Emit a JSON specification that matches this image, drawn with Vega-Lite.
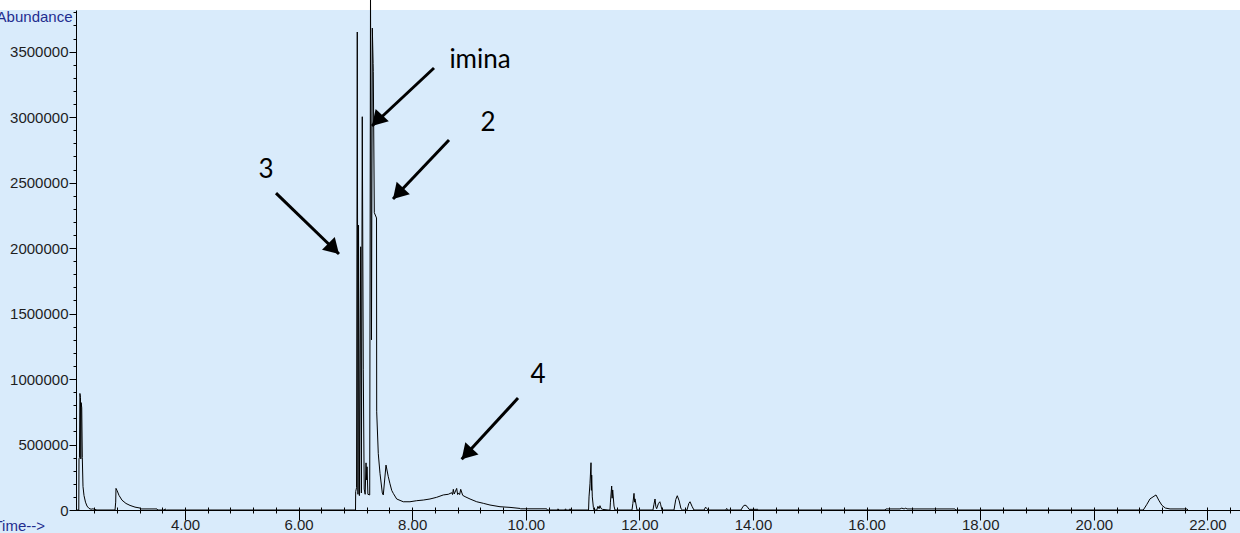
{
  "$schema": "https://vega.github.io/schema/vega-lite/v6.json",
  "width": 1164,
  "height": 500,
  "autosize": {"type": "none"},
  "padding": {"left": 76, "top": 10, "right": 0, "bottom": 23},
  "background": "#d9ebfb",
  "config": {
    "view": {"stroke": null},
    "axis": {
      "grid": false,
      "labelFont": "Liberation Sans",
      "labelFontSize": 15,
      "labelColor": "#1e1e1e",
      "domainColor": "#000000",
      "tickColor": "#000000",
      "titleFont": "Liberation Sans",
      "titleFontSize": 15,
      "titleFontWeight": "normal",
      "titleColor": "#1f2d8f"
    }
  },
  "datasets": {
    "signal": [
      {"time": 2.081, "abundance": 0},
      {"time": 2.13, "abundance": 0},
      {"time": 2.134, "abundance": 390000},
      {"time": 2.142, "abundance": 400000},
      {"time": 2.15, "abundance": 890000},
      {"time": 2.16, "abundance": 860000},
      {"time": 2.166, "abundance": 390000},
      {"time": 2.172, "abundance": 820000},
      {"time": 2.182, "abundance": 780000},
      {"time": 2.192, "abundance": 400000},
      {"time": 2.204, "abundance": 180000},
      {"time": 2.222, "abundance": 110000},
      {"time": 2.248, "abundance": 60000},
      {"time": 2.275, "abundance": 30000},
      {"time": 2.31, "abundance": 12000},
      {"time": 2.346, "abundance": 6000},
      {"time": 2.38, "abundance": 9000},
      {"time": 2.415, "abundance": 4000},
      {"time": 2.45, "abundance": 0},
      {"time": 2.768, "abundance": 0},
      {"time": 2.78, "abundance": 60000},
      {"time": 2.785, "abundance": 165000},
      {"time": 2.803, "abundance": 150000},
      {"time": 2.838, "abundance": 112000},
      {"time": 2.891, "abundance": 75000},
      {"time": 2.961, "abundance": 50000},
      {"time": 3.032, "abundance": 35000},
      {"time": 3.12, "abundance": 22000},
      {"time": 3.208, "abundance": 15000},
      {"time": 3.22, "abundance": 8000},
      {"time": 3.507, "abundance": 8000},
      {"time": 3.52, "abundance": 0},
      {"time": 3.63, "abundance": 0},
      {"time": 3.648, "abundance": 9000},
      {"time": 3.67, "abundance": 0},
      {"time": 7.0, "abundance": 0},
      {"time": 7.002, "abundance": 0},
      {"time": 7.005, "abundance": 140000},
      {"time": 7.02, "abundance": 170000},
      {"time": 7.033, "abundance": 3650000},
      {"time": 7.045, "abundance": 120000},
      {"time": 7.055, "abundance": 2175000},
      {"time": 7.07, "abundance": 110000},
      {"time": 7.093, "abundance": 2010000},
      {"time": 7.105, "abundance": 130000},
      {"time": 7.121, "abundance": 3003000},
      {"time": 7.139, "abundance": 1070000},
      {"time": 7.155, "abundance": 160000},
      {"time": 7.172, "abundance": 120000},
      {"time": 7.187, "abundance": 360000},
      {"time": 7.197, "abundance": 230000},
      {"time": 7.205, "abundance": 330000},
      {"time": 7.22, "abundance": 120000},
      {"time": 7.252, "abundance": 115000},
      {"time": 7.266, "abundance": 3950000},
      {"time": 7.283, "abundance": 1300000},
      {"time": 7.298, "abundance": 3680000},
      {"time": 7.312, "abundance": 3410000},
      {"time": 7.315, "abundance": 3350000},
      {"time": 7.333, "abundance": 2270000},
      {"time": 7.372, "abundance": 2230000},
      {"time": 7.375, "abundance": 750000},
      {"time": 7.403, "abundance": 430000},
      {"time": 7.433, "abundance": 280000},
      {"time": 7.474, "abundance": 130000},
      {"time": 7.491, "abundance": 115000},
      {"time": 7.539, "abundance": 343000},
      {"time": 7.579, "abundance": 254000},
      {"time": 7.609, "abundance": 200000},
      {"time": 7.639, "abundance": 150000},
      {"time": 7.667, "abundance": 127000},
      {"time": 7.727, "abundance": 84000},
      {"time": 7.843, "abundance": 63000},
      {"time": 7.961, "abundance": 63000},
      {"time": 8.079, "abundance": 71000},
      {"time": 8.195, "abundance": 76000},
      {"time": 8.313, "abundance": 84000},
      {"time": 8.431, "abundance": 97000},
      {"time": 8.548, "abundance": 115000},
      {"time": 8.636, "abundance": 120000},
      {"time": 8.695, "abundance": 132000},
      {"time": 8.71, "abundance": 118000},
      {"time": 8.724, "abundance": 158000},
      {"time": 8.74, "abundance": 122000},
      {"time": 8.783, "abundance": 165000},
      {"time": 8.8, "abundance": 118000},
      {"time": 8.815, "abundance": 130000},
      {"time": 8.835, "abundance": 118000},
      {"time": 8.854, "abundance": 158000},
      {"time": 8.889, "abundance": 112000},
      {"time": 8.93, "abundance": 102000},
      {"time": 9.018, "abundance": 84000},
      {"time": 9.136, "abundance": 63000},
      {"time": 9.252, "abundance": 51000},
      {"time": 9.37, "abundance": 38000},
      {"time": 9.546, "abundance": 25000},
      {"time": 9.722, "abundance": 20000},
      {"time": 9.898, "abundance": 12000},
      {"time": 9.91, "abundance": 9000},
      {"time": 10.368, "abundance": 9000},
      {"time": 10.38, "abundance": 0},
      {"time": 10.56, "abundance": 0},
      {"time": 10.567, "abundance": 9000},
      {"time": 10.58, "abundance": 0},
      {"time": 10.69, "abundance": 0},
      {"time": 10.7, "abundance": 9000},
      {"time": 10.71, "abundance": 0},
      {"time": 10.77, "abundance": 0},
      {"time": 10.778, "abundance": 9000},
      {"time": 10.79, "abundance": 0},
      {"time": 11.105, "abundance": 0},
      {"time": 11.113, "abundance": 100000},
      {"time": 11.13, "abundance": 200000},
      {"time": 11.148, "abundance": 361000},
      {"time": 11.155, "abundance": 150000},
      {"time": 11.16, "abundance": 267000},
      {"time": 11.171, "abundance": 100000},
      {"time": 11.19, "abundance": 20000},
      {"time": 11.201, "abundance": 0},
      {"time": 11.25, "abundance": 0},
      {"time": 11.27, "abundance": 28000},
      {"time": 11.29, "abundance": 10000},
      {"time": 11.306, "abundance": 33000},
      {"time": 11.324, "abundance": 12000},
      {"time": 11.35, "abundance": 5000},
      {"time": 11.45, "abundance": 0},
      {"time": 11.482, "abundance": 0},
      {"time": 11.49, "abundance": 60000},
      {"time": 11.512, "abundance": 183000},
      {"time": 11.52, "abundance": 90000},
      {"time": 11.53, "abundance": 153000},
      {"time": 11.553, "abundance": 30000},
      {"time": 11.57, "abundance": 0},
      {"time": 11.87, "abundance": 0},
      {"time": 11.885, "abundance": 50000},
      {"time": 11.905, "abundance": 127000},
      {"time": 11.915, "abundance": 60000},
      {"time": 11.923, "abundance": 85000},
      {"time": 11.958, "abundance": 0},
      {"time": 12.239, "abundance": 0},
      {"time": 12.255, "abundance": 40000},
      {"time": 12.275, "abundance": 84000},
      {"time": 12.29, "abundance": 25000},
      {"time": 12.304, "abundance": 10000},
      {"time": 12.336, "abundance": 50000},
      {"time": 12.36, "abundance": 63000},
      {"time": 12.375, "abundance": 40000},
      {"time": 12.398, "abundance": 0},
      {"time": 12.609, "abundance": 0},
      {"time": 12.64, "abundance": 80000},
      {"time": 12.667, "abundance": 109000},
      {"time": 12.7, "abundance": 70000},
      {"time": 12.732, "abundance": 10000},
      {"time": 12.76, "abundance": 0},
      {"time": 12.838, "abundance": 0},
      {"time": 12.87, "abundance": 50000},
      {"time": 12.891, "abundance": 63000},
      {"time": 12.93, "abundance": 25000},
      {"time": 12.961, "abundance": 0},
      {"time": 13.14, "abundance": 0},
      {"time": 13.165, "abundance": 22000},
      {"time": 13.19, "abundance": 10000},
      {"time": 13.208, "abundance": 0},
      {"time": 13.52, "abundance": 0},
      {"time": 13.537, "abundance": 12000},
      {"time": 13.55, "abundance": 0},
      {"time": 13.789, "abundance": 0},
      {"time": 13.825, "abundance": 28000},
      {"time": 13.859, "abundance": 38000},
      {"time": 13.895, "abundance": 28000},
      {"time": 13.93, "abundance": 5000},
      {"time": 14.088, "abundance": 5000},
      {"time": 14.1, "abundance": 0},
      {"time": 16.324, "abundance": 0},
      {"time": 16.34, "abundance": 8000},
      {"time": 16.588, "abundance": 8000},
      {"time": 16.62, "abundance": 14000},
      {"time": 16.66, "abundance": 8000},
      {"time": 16.69, "abundance": 14000},
      {"time": 16.711, "abundance": 8000},
      {"time": 17.556, "abundance": 8000},
      {"time": 17.57, "abundance": 0},
      {"time": 20.871, "abundance": 0},
      {"time": 20.93, "abundance": 40000},
      {"time": 20.99, "abundance": 85000},
      {"time": 21.095, "abundance": 115000},
      {"time": 21.15, "abundance": 70000},
      {"time": 21.201, "abundance": 35000},
      {"time": 21.26, "abundance": 15000},
      {"time": 21.342, "abundance": 8000},
      {"time": 21.641, "abundance": 8000},
      {"time": 21.66, "abundance": 0}
    ],
    "arrows": [
      {"label": "imina", "t0": 8.384, "a0": 3375000, "t1": 7.292, "a1": 2932000},
      {"label": "2", "t0": 8.648, "a0": 2825000, "t1": 7.662, "a1": 2375000},
      {"label": "3", "t0": 5.602, "a0": 2420000, "t1": 6.711, "a1": 1955000},
      {"label": "4", "t0": 9.863, "a0": 855000, "t1": 8.871, "a1": 387000}
    ],
    "notes": [
      {"label": "imina", "t": 9.194, "a": 3436000},
      {"label": "2", "t": 9.335, "a": 2955000},
      {"label": "3", "t": 5.426, "a": 2596000},
      {"label": "4", "t": 10.215, "a": 1031000}
    ]
  },
  "layer": [
    {
      "data": {"values": [{}]},
      "mark": {"type": "rect", "color": "#ffffff", "clip": false},
      "encoding": {
        "x": {"datum": 0.5, "type": "quantitative", "axis": null},
        "x2": {"datum": 23.0},
        "y": {"datum": 3818000, "type": "quantitative", "axis": null},
        "y2": {"datum": 4300000}
      }
    },
    {
      "data": {"name": "signal"},
      "mark": {"type": "line", "color": "#000000", "strokeWidth": 1, "clip": false},
      "encoding": {
        "x": {
          "field": "time",
          "type": "quantitative",
          "scale": {"domain": [2.081, 22.574], "nice": false, "zero": false},
          "axis": {
            "orient": "bottom",
            "values": [4, 6, 8, 10, 12, 14, 16, 18, 20, 22],
            "format": ".2f",
            "tickSize": 10,
            "labelPadding": -3,
            "title": "Time-->",
            "titleAnchor": "start",
            "titleAlign": "left",
            "titleBaseline": "alphabetic",
            "titleX": -83,
            "titleY": 20
          }
        },
        "y": {
          "field": "abundance",
          "type": "quantitative",
          "scale": {"domain": [0, 3818000], "nice": false},
          "axis": {
            "orient": "left",
            "values": [0, 500000, 1000000, 1500000, 2000000, 2500000, 3000000, 3500000],
            "format": "d",
            "tickSize": 7,
            "labelPadding": 1,
            "title": "Abundance",
            "titleAngle": 0,
            "titleAlign": "right",
            "titleBaseline": "alphabetic",
            "titleX": -4,
            "titleY": 11
          }
        },
        "order": {"value": null}
      }
    },
    {
      "data": {"name": "arrows"},
      "mark": {"type": "rule", "color": "#000000", "strokeWidth": 3},
      "encoding": {
        "x": {
          "field": "t0",
          "type": "quantitative",
          "axis": {
            "orient": "bottom",
            "offset": -3,
            "domain": false,
            "labels": false,
            "title": null,
            "tickSize": 6,
            "values": [2.4, 2.8, 3.2, 3.6, 4.0, 4.4, 4.8, 5.2, 5.6, 6.0, 6.4, 6.8, 7.2, 7.6, 8.0, 8.4, 8.8, 9.2, 9.6, 10.0, 10.4, 10.8, 11.2, 11.6, 12.0, 12.4, 12.8, 13.2, 13.6, 14.0, 14.4, 14.8, 15.2, 15.6, 16.0, 16.4, 16.8, 17.2, 17.6, 18.0, 18.4, 18.8, 19.2, 19.6, 20.0, 20.4, 20.8, 21.2, 21.6, 22.0, 22.4]
          }
        },
        "y": {
          "field": "a0",
          "type": "quantitative",
          "axis": {
            "orient": "left",
            "domain": false,
            "labels": false,
            "title": null,
            "tickSize": 3,
            "values": [0, 100000, 200000, 300000, 400000, 500000, 600000, 700000, 800000, 900000, 1000000, 1100000, 1200000, 1300000, 1400000, 1500000, 1600000, 1700000, 1800000, 1900000, 2000000, 2100000, 2200000, 2300000, 2400000, 2500000, 2600000, 2700000, 2800000, 2900000, 3000000, 3100000, 3200000, 3300000, 3400000, 3500000, 3600000, 3700000, 3800000]
          }
        },
        "x2": {"field": "t1"},
        "y2": {"field": "a1"}
      }
    },
    {
      "data": {"name": "arrows"},
      "transform": [{"filter": "datum.label !== '3'"}],
      "mark": {"type": "point", "shape": "M0,0L1.2,2L-1.2,2Z", "filled": true, "opacity": 1, "color": "#000000", "size": 225, "angle": 223},
      "encoding": {
        "x": {"field": "t1", "type": "quantitative", "axis": null},
        "y": {"field": "a1", "type": "quantitative", "axis": null}
      }
    },
    {
      "data": {"name": "arrows"},
      "transform": [{"filter": "datum.label === '3'"}],
      "mark": {"type": "point", "shape": "M0,0L1.2,2L-1.2,2Z", "filled": true, "opacity": 1, "color": "#000000", "size": 225, "angle": 135},
      "encoding": {
        "x": {"field": "t1", "type": "quantitative", "axis": null},
        "y": {"field": "a1", "type": "quantitative", "axis": null}
      }
    },
    {
      "data": {"name": "notes"},
      "mark": {"type": "text", "font": "Lato", "fontSize": 26, "color": "#000000", "align": "center", "baseline": "middle"},
      "encoding": {
        "x": {"field": "t", "type": "quantitative", "axis": null},
        "y": {"field": "a", "type": "quantitative", "axis": null},
        "text": {"field": "label"}
      }
    }
  ],
  "resolve": {"axis": {"x": "independent", "y": "independent"}}
}
